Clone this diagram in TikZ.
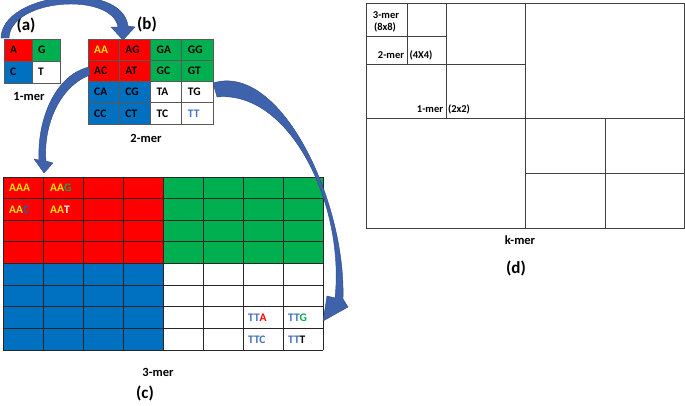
\documentclass[tikz,border=0pt]{standalone}
\usepackage{fontspec}
\setmainfont{Carlito}
\definecolor{kred}{RGB}{255,0,0}
\definecolor{kgreen}{RGB}{0,176,80}
\definecolor{kblue}{RGB}{0,112,192}
\definecolor{kyel}{RGB}{255,230,0}
\definecolor{ltblue}{RGB}{68,114,196}
\definecolor{gline}{RGB}{89,89,89}
\definecolor{dline}{RGB}{64,64,64}
\definecolor{arrowblue}{RGB}{62,98,172}
\tikzset{
  celltxt/.style={font=\fontsize{11.5}{12}\selectfont\bfseries, inner sep=0pt, anchor=west},
  celltxtc/.style={font=\fontsize{11.5}{12}\selectfont\bfseries, inner sep=0pt, anchor=west},
  capt/.style={font=\fontsize{12.5}{13}\selectfont\bfseries, inner sep=0pt},
  panel/.style={font=\fontsize{17}{18}\selectfont\bfseries, inner sep=0pt},
  dtxt/.style={font=\fontsize{10.5}{11}\selectfont\bfseries, inner sep=0pt},
  gridline/.style={draw=gline, line width=0.9pt},
  cline/.style={draw=black!85, line width=0.9pt},
  dl/.style={draw=dline, line width=1pt},
  arrowfill/.style={fill=arrowblue, draw=arrowblue!75!black, line width=0.4pt}
}
\begin{document}
\begin{tikzpicture}[x=1pt,y=-1pt]
\useasboundingbox (0,0) rectangle (685,405);
% ---------- (a) 1-mer ----------
\foreach \c/\r/\col/\t in {0/0/kred/A,1/0/kgreen/G,0/1/kblue/C,1/1/white/T}{
  \filldraw[fill=\col, gridline] ({4+28*\c},{39+22*\r}) rectangle ++(28,22);
  \node[celltxt] (a-\t) at ({4+28*\c+6},{50+22*\r}) {\t};
}
\node[capt] (a-cap) at (29,96) {1-mer};
\node[panel] (a-lab) at (26,25) {(a)};
% ---------- (b) 2-mer ----------
\foreach \c/\r/\col/\t/\tc in {
  0/0/kred/AA/kyel, 1/0/kred/AG/black, 2/0/kgreen/GA/black, 3/0/kgreen/GG/black,
  0/1/kred/AC/black, 1/1/kred/AT/black, 2/1/kgreen/GC/black, 3/1/kgreen/GT/black,
  0/2/kblue/CA/black, 1/2/kblue/CG/black, 2/2/white/TA/black, 3/2/white/TG/black,
  0/3/kblue/CC/black, 1/3/kblue/CT/black, 2/3/white/TC/black, 3/3/white/TT/ltblue}{
  \filldraw[fill=\col, gridline] ({88+31.25*\c},{39+21.25*\r}) rectangle ++(31.25,21.25);
  \node[celltxt, text=\tc] (b-\t) at ({88+31.25*\c+6},{49.6+21.25*\r}) {\t};
}
\node[capt] (b-cap) at (146,138) {2-mer};
\node[panel] (b-lab) at (147,24) {(b)};
% ---------- (c) 3-mer ----------
\fill[kred] (3,177) rectangle (163,263.5);
\fill[kgreen] (163,177) rectangle (323,263.5);
\fill[kblue] (3,263.5) rectangle (163,350);
\fill[white] (163,263.5) rectangle (323,350);
\foreach \i in {0,...,8}{
  \draw[cline] ({3+40*\i},177) -- ({3+40*\i},350);
  \draw[cline] (3,{177+21.625*\i}) -- (323,{177+21.625*\i});
}
\node[celltxtc] (c-AAA) at (9,188) {\textcolor{kyel}{AAA}};
\node[celltxtc] (c-AAG) at (50,188) {\textcolor{kyel}{AA}\textcolor{kgreen}{G}};
\node[celltxtc] (c-AAC) at (9,209.6) {\textcolor{kyel}{AA}\textcolor{kblue}{C}};
\node[celltxtc] (c-AAT) at (50,209.6) {\textcolor{kyel}{AA}\textcolor{white}{T}};
\node[celltxtc] (c-TTA) at (248,317.7) {\textcolor{ltblue}{TT}\textcolor{kred}{A}};
\node[celltxtc] (c-TTG) at (288,317.7) {\textcolor{ltblue}{TT}\textcolor{kgreen}{G}};
\node[celltxtc] (c-TTC) at (248,339.3) {\textcolor{ltblue}{TTC}};
\node[celltxtc] (c-TTT) at (288,339.3) {\textcolor{ltblue}{TT}\textcolor{black}{T}};
\node[capt] (c-cap) at (158,372) {3-mer};
\node[panel] (c-lab) at (145,393) {(c)};
% ---------- (d) k-mer ----------
\draw[dl] (366,3) rectangle (684,228);
\draw[dl] (525,3) -- (525,228);
\draw[dl] (366,118) -- (684,118);
\draw[dl] (605,118) -- (605,228);
\draw[dl] (525,173) -- (684,173);
\draw[dl] (446,3) -- (446,118);
\draw[dl] (366,64) -- (525,64);
\draw[dl] (407,3) -- (407,64);
\draw[dl] (366,36) -- (446,36);
\node[dtxt] (d-3a) at (386,15) {3-mer};
\node[dtxt] (d-3b) at (385,27) {(8x8)};
\node[dtxt] (d-2a) at (391,55) {2-mer};
\node[dtxt] (d-2b) at (421,55) {(4X4)};
\node[dtxt] (d-1a) at (430,109) {1-mer};
\node[dtxt] (d-1b) at (459,109) {(2x2)};
\node[capt] (d-cap) at (520,240) {k-mer};
\node[panel] (d-lab) at (516,268) {(d)};
% ---------- curved arrows ----------
\filldraw[arrowfill] (1,38) .. controls (2,-8) and (122,-20) .. (128,26)
  -- (135,27) -- (123,40) -- (111,27) -- (118,27)
  .. controls (112,-8) and (11,-2) .. (9,38) -- cycle;
\filldraw[arrowfill] (89,67) .. controls (55,75) and (37,120) .. (39,160)
  -- (34,159) -- (44,173) -- (53,163) -- (46,161)
  .. controls (43,125) and (60,86) .. (90,75) -- cycle;
\filldraw[arrowfill] (213,83) .. controls (280,62) and (346,200) .. (343,299)
  -- (348,307) -- (323,321) -- (327,296) -- (335,298)
  .. controls (345,205) and (290,90) .. (217,97) -- cycle;
\end{tikzpicture}
\end{document}
